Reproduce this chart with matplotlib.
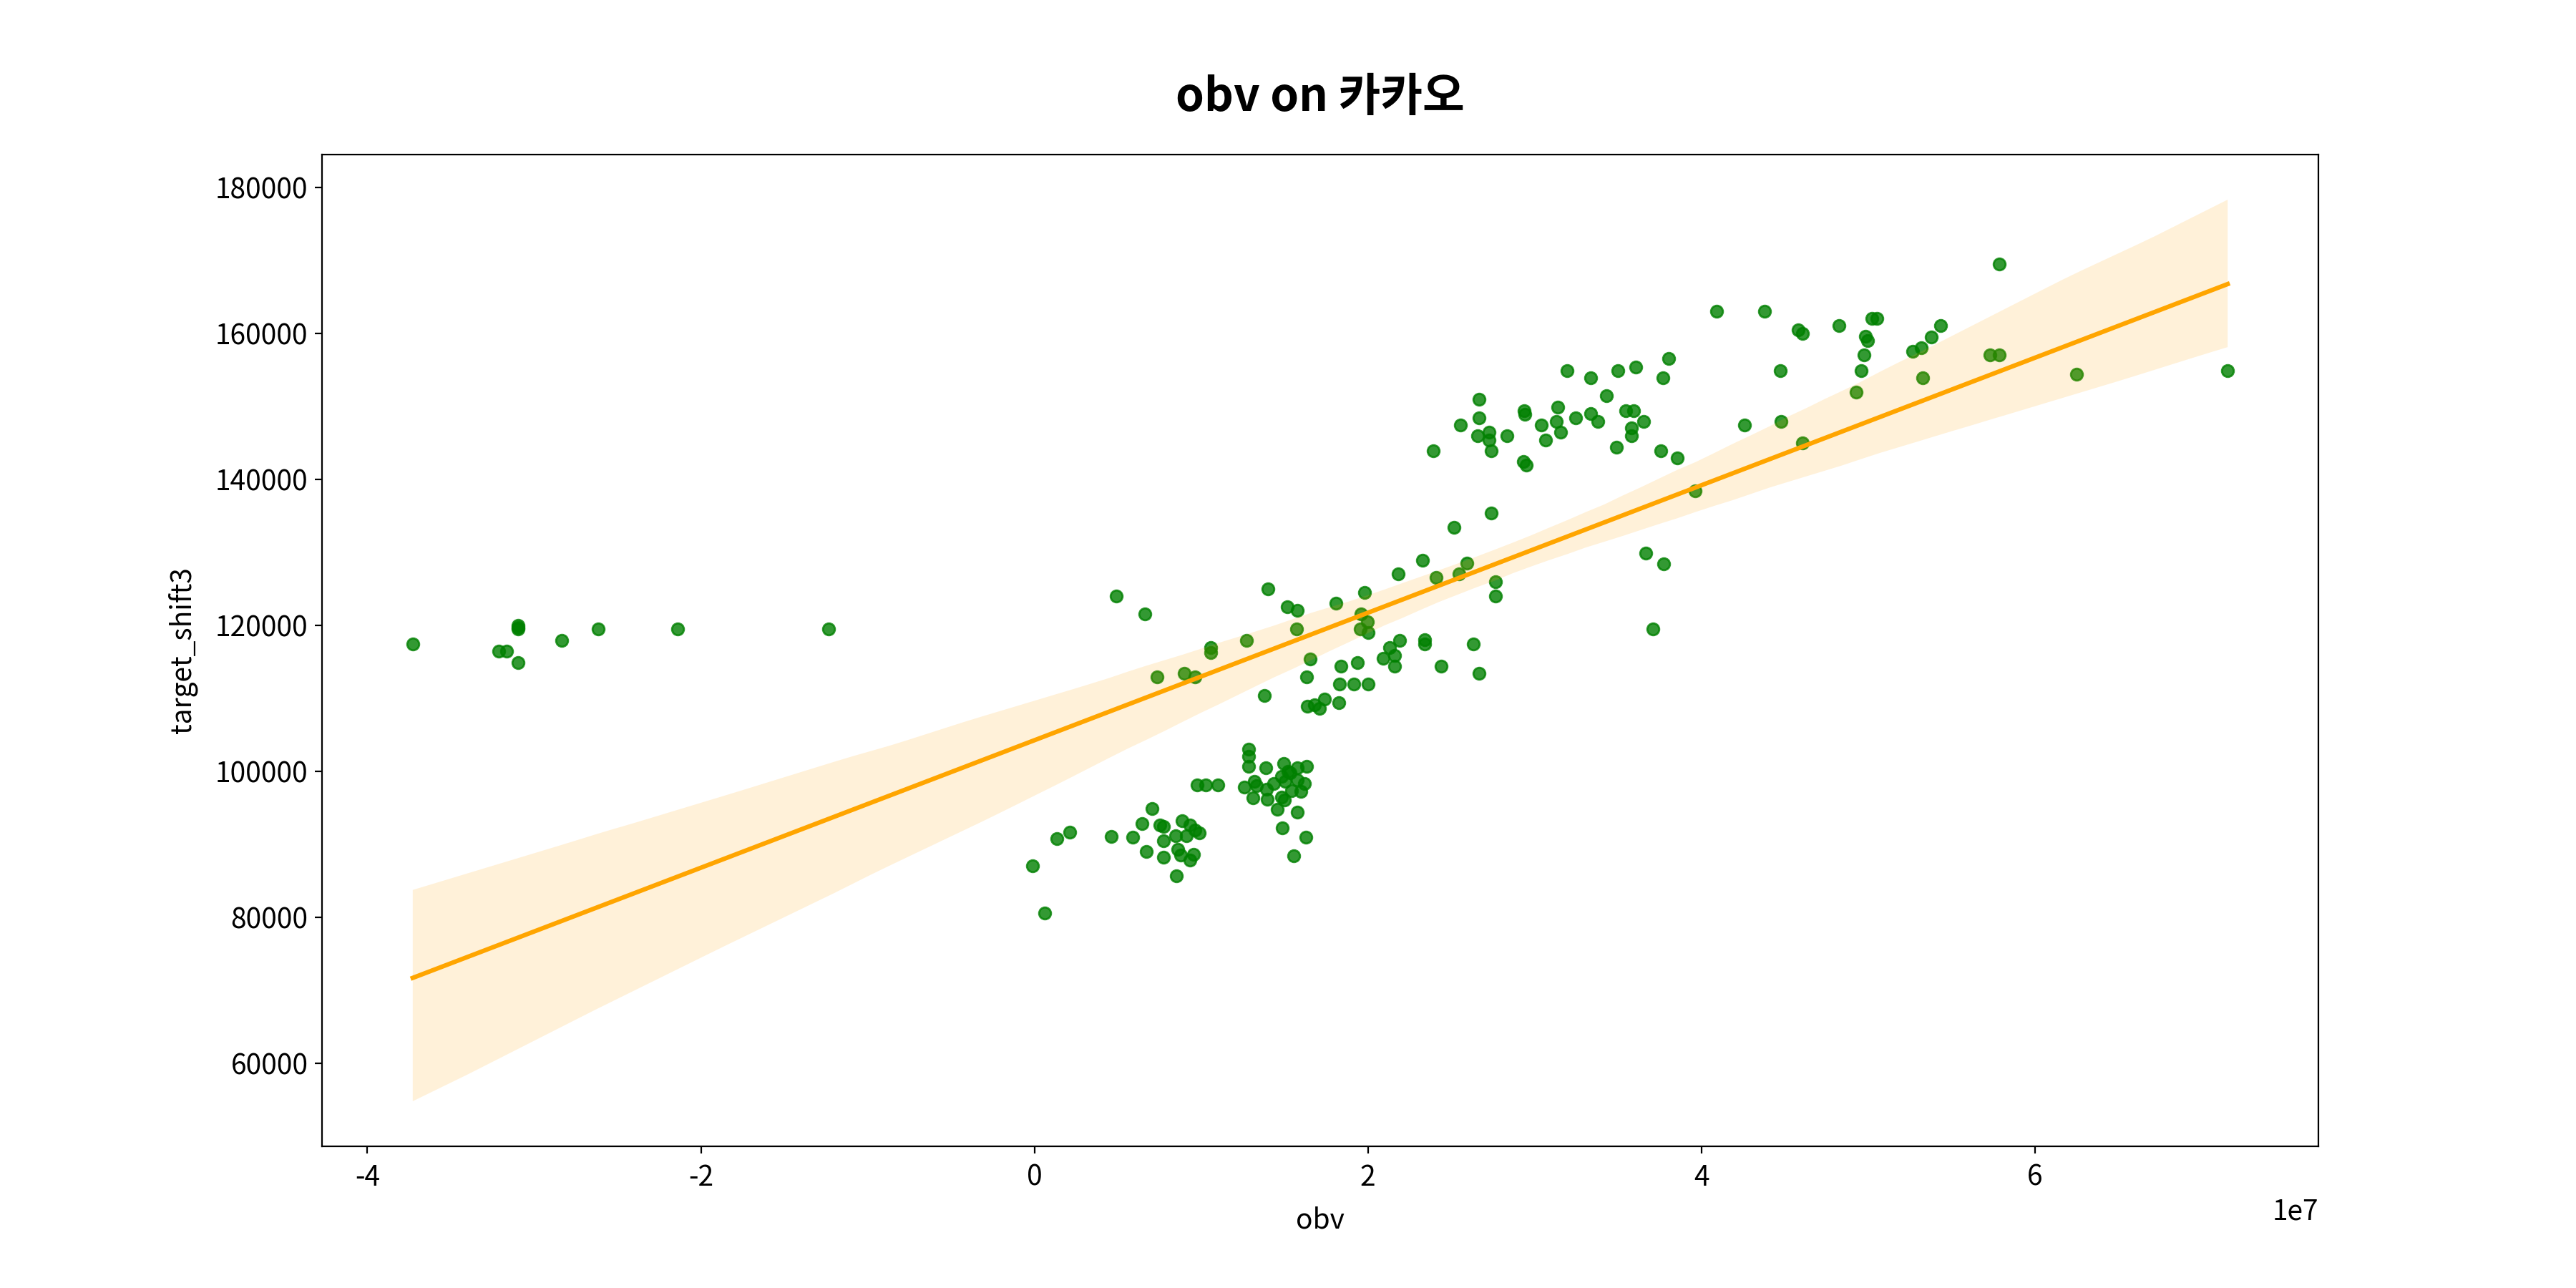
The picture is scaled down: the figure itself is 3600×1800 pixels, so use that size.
import numpy as np
import pandas as pd
import matplotlib
matplotlib.use("Agg")
import matplotlib.pyplot as plt
import seaborn as sns

# obv values in units of 1e7, target values
obv_e7 = [
    -3.728, -3.097, -3.097, -3.097, -3.214, -3.163, -3.097, -2.836, -2.617, -2.141,
    -1.235, 0.489, 0.661,
    -0.009, 0.064, 0.134, 0.212, 0.461, 0.588, 0.644, 0.704, 0.670, 0.751,
    0.773, 0.773, 0.773, 0.847, 0.887, 0.933, 0.911, 0.961, 0.990, 0.858,
    0.876, 0.954, 0.933, 0.851, 0.976, 1.026, 1.100, 1.283, 1.283, 1.283,
    1.259, 1.319, 1.309, 1.386, 1.494, 1.391, 1.398, 1.433, 1.458, 1.483,
    1.498, 1.483, 1.533, 1.541, 1.576, 1.634, 1.576, 1.619, 1.598, 1.576,
    1.486, 1.627, 1.557, 1.333, 1.519, 1.503,
    1.399, 1.515, 1.576, 1.571, 1.272, 1.057, 1.057, 0.735, 0.897, 0.961,
    1.378, 1.652, 1.632, 1.807, 1.979, 1.960, 1.999, 1.956, 2.001, 1.837,
    1.936, 1.830, 1.914, 2.000, 1.738, 1.637, 1.679, 1.709, 1.827, 2.182,
    2.328, 2.408, 2.547, 2.594, 2.764, 2.764, 2.190, 2.131, 2.159, 2.092,
    2.159, 2.340, 2.340, 2.439, 2.632, 2.668,
    4.091, 3.193, 3.335, 3.498, 3.605, 3.804, 3.770, 2.666, 2.666, 2.554,
    2.657, 2.728, 2.728, 2.738, 2.833, 2.392, 2.937, 2.942, 3.039, 3.064,
    3.137, 3.130, 3.155, 3.246, 3.336, 3.379, 3.429, 3.548, 3.594, 3.654,
    3.579, 3.579, 3.490, 3.755, 3.854, 2.932, 2.949, 4.258, 2.738, 2.515,
    3.963, 3.665, 3.773, 3.708,
    5.787, 4.378, 4.580, 4.605, 4.825, 5.021, 5.053, 4.983, 4.997, 4.974,
    4.957, 4.929, 4.472, 4.476, 4.605, 5.267, 5.319, 5.379, 5.435, 5.327,
    5.730, 5.787, 6.249, 7.156,
]

target_shift3 = [
    117400, 120000, 119700, 119500, 116400, 116400, 114900, 117900, 119500, 119500,
    119500, 124000, 121500,
    87000, 80600, 90800, 91700, 91100, 91000, 92800, 94900, 89000, 92600,
    92400, 90500, 88200, 91200, 93200, 92600, 91200, 91900, 91600, 89300,
    88500, 88600, 87800, 85700, 98100, 98100, 98100, 103000, 102000, 100700,
    97800, 98600, 96400, 100500, 101100, 97500, 96200, 98300, 94800, 96500,
    96100, 99300, 99800, 97300, 100500, 100700, 98800, 98300, 97200, 94400,
    92200, 91000, 88400, 98000, 100000, 98600,
    125000, 122500, 122000, 119500, 117900, 116900, 116300, 112900, 113400, 112900,
    110400, 115400, 112900, 123000, 124500, 121500, 120500, 119500, 119000, 114400,
    114900, 111900, 111900, 111900, 109900, 108900, 109100, 108600, 109400, 127000,
    128900, 126500, 127000, 128500, 126000, 124000, 117900, 116900, 115900, 115500,
    114400, 118000, 117400, 114400, 117400, 113400,
    163000, 154900, 153900, 154900, 155400, 156500, 153900, 150900, 148400, 147400,
    145900, 146400, 145400, 143900, 145900, 143900, 149400, 148900, 147400, 145400,
    149900, 147900, 146400, 148400, 149000, 147900, 151400, 149400, 149400, 147900,
    147000, 145900, 144400, 143900, 142900, 142400, 141900, 147400, 135400, 133400,
    138400, 129900, 128400, 119500,
    169500, 163000, 160500, 160000, 161000, 162000, 162000, 159600, 159000, 157000,
    154900, 151900, 154900, 147900, 145000, 157500, 158000, 159500, 161000, 153900,
    157000, 157000, 154400, 154900,
]

df = pd.DataFrame({
    "obv": np.array(obv_e7) * 1e7,
    "target_shift3": target_shift3,
})

plt.rcParams['font.family'] = ['Noto Sans CJK KR', 'DejaVu Sans']
plt.rcParams['axes.unicode_minus'] = False
plt.rcParams['xtick.labelsize'] = 14
plt.rcParams['ytick.labelsize'] = 14
plt.rcParams['axes.labelsize'] = 14
plt.rcParams['xtick.major.pad'] = 5

fig, ax = plt.subplots(figsize=(18, 9), dpi=200)

sns.regplot(data=df, x="obv", y="target_shift3", ax=ax, seed=0,
            scatter_kws={"color": "green"},
            line_kws={"color": "orange"})

ax.set_xlabel("obv", labelpad=7)
ax.set_ylabel("target_shift3", labelpad=9)
ax.set_title("obv on 카카오", fontsize=23, fontweight="bold", pad=22)

fig.savefig("out.png", dpi=200)
